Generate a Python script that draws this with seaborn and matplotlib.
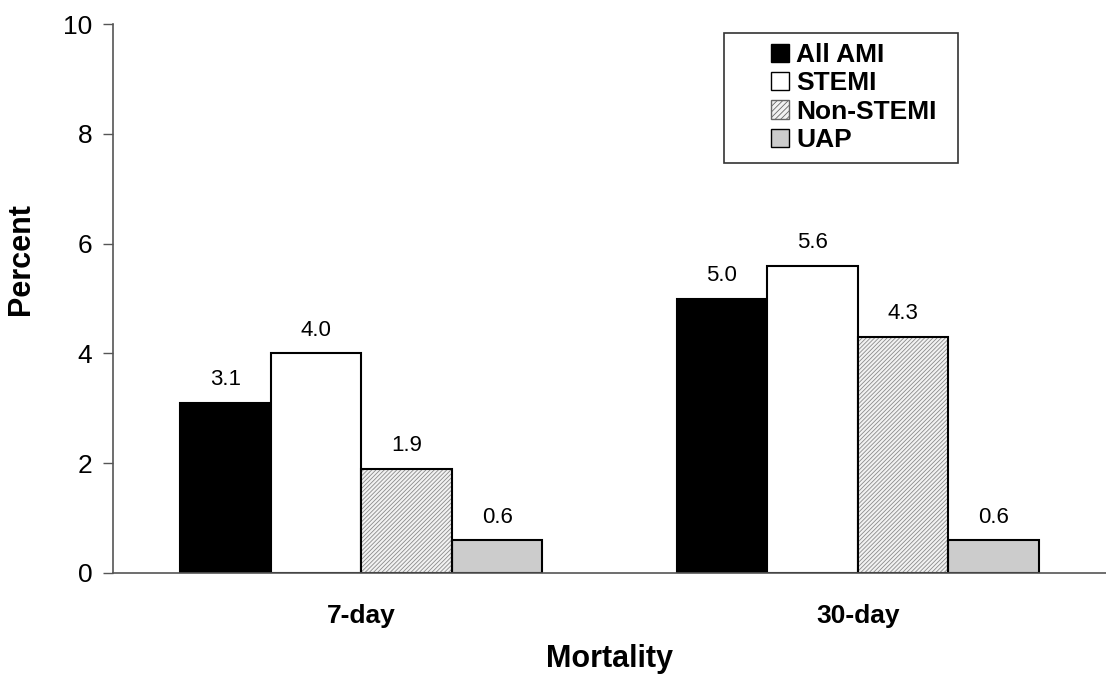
import matplotlib
matplotlib.use("Agg")
import matplotlib.pyplot as plt
import seaborn as sns
import pandas as pd
from matplotlib.patches import Rectangle, Patch

periods = ["7-day", "30-day"]
groups = ["All AMI", "STEMI", "Non-STEMI", "UAP"]
all_ami = [3.1, 5.0]
stemi = [4.0, 5.6]
non_stemi = [1.9, 4.3]
uap = [0.6, 0.6]

rows = []
for g, vals in zip(groups, [all_ami, stemi, non_stemi, uap]):
    for p, v in zip(periods, vals):
        rows.append({"Mortality": p, "Group": g, "Percent": v})
df = pd.DataFrame(rows)

sns.set_style("white")
plt.rcParams["font.family"] = ["Liberation Sans", "DejaVu Sans"]
plt.rcParams["hatch.linewidth"] = 0.6
plt.rcParams["text.color"] = "black"
plt.rcParams["axes.labelcolor"] = "black"
plt.rcParams["xtick.color"] = "black"
plt.rcParams["ytick.color"] = "black"

colors = {"All AMI": "#000000", "STEMI": "#ffffff", "Non-STEMI": "#f2f2f2", "UAP": "#cccccc"}

W, H = 1106, 676
fig = plt.figure(figsize=(W / 100, H / 100), dpi=100)
ax = fig.add_axes([113 / W, 1 - 573 / H, 1 - 113 / W, (573 - 24) / H])

sns.barplot(data=df, x="Mortality", y="Percent", hue="Group", order=periods,
            hue_order=groups, palette=colors, width=0.73, gap=0,
            edgecolor="black", linewidth=1.5, legend=False, ax=ax)

n = len(periods)
for i, patch in enumerate(list(ax.patches)):
    gi = i // n
    if groups[gi] == "Non-STEMI":
        patch.set_hatch("////////")
        patch.set_edgecolor("#8a8a8a")
        patch.set_linewidth(0)
        outline = Rectangle(patch.get_xy(), patch.get_width(), patch.get_height(),
                            fill=False, edgecolor="black", linewidth=1.5, zorder=patch.get_zorder() + 0.1)
        ax.add_patch(outline)

for cont in ax.containers:
    ax.bar_label(cont, fmt="%.1f", padding=9, fontsize=16, color="black")

ax.set_ylim(0, 10)
ax.set_yticks([0, 2, 4, 6, 8, 10])
ax.set_xlim(-0.5, 1.5)
ax.tick_params(axis="y", which="both", direction="out", length=7, width=1, color="#555555",
               labelsize=19, left=True, pad=8, labelcolor="black")
ax.tick_params(axis="x", length=0, labelsize=19, pad=22, labelcolor="black")
for lab in ax.get_xticklabels():
    lab.set_fontweight("bold")

ax.set_ylabel("Percent", fontsize=22, fontweight="bold", color="black")
ax.yaxis.set_label_coords((36 - 113) / (W - 113), (573 - 259) / (573 - 24))
ax.set_xlabel("Mortality", fontsize=22, fontweight="bold", labelpad=12, color="black")

sns.despine(ax=ax, top=True, right=True)
for s in ["left", "bottom"]:
    ax.spines[s].set_color("#555555")
    ax.spines[s].set_linewidth(1.2)

handles = []
for g in groups:
    if g == "Non-STEMI":
        handles.append(Patch(facecolor=colors[g], edgecolor="#666666", hatch="//////", linewidth=1))
    else:
        handles.append(Patch(facecolor=colors[g], edgecolor="black", linewidth=1))

def ax_xy(px, py):
    return ((px - 113) / (W - 113), (573 - py) / (573 - 24))

leg = ax.legend(handles, groups, loc="upper left", bbox_to_anchor=ax_xy(771, 43),
                frameon=False, prop={"weight": "bold", "size": 19},
                handlelength=0.7, handleheight=0.7, handletextpad=0.25,
                borderpad=0.0, labelspacing=0.17, borderaxespad=0)
for t in leg.get_texts():
    t.set_color("black")

x0, y0 = ax_xy(724, 163)
x1, y1 = ax_xy(958, 33)
ax.add_patch(Rectangle((x0, y0), x1 - x0, y1 - y0, transform=ax.transAxes, fill=False,
                       edgecolor="#333333", linewidth=1.2, zorder=5, clip_on=False))

fig.savefig("out.png", dpi=100)
